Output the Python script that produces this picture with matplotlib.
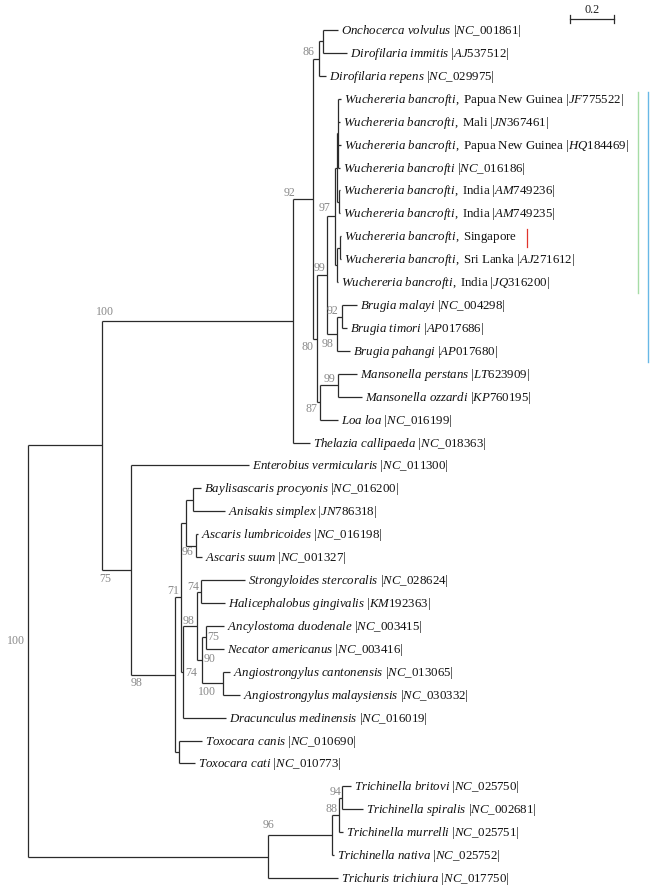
import re
import matplotlib
matplotlib.use('Agg')
import matplotlib.pyplot as plt
from matplotlib.collections import LineCollection

plt.rcParams['font.family'] = 'Liberation Serif'
plt.rcParams['mathtext.fontset'] = 'custom'
plt.rcParams['mathtext.rm'] = 'Liberation Serif'
plt.rcParams['mathtext.it'] = 'Liberation Serif:italic'

# leaf labels, in tree order (leaf i of the newick string)
species = ['Onchocerca volvulus', 'Dirofilaria immitis', 'Dirofilaria repens',
           'Wuchereria bancrofti', 'Wuchereria bancrofti', 'Wuchereria bancrofti',
           'Wuchereria bancrofti', 'Wuchereria bancrofti', 'Wuchereria bancrofti',
           'Wuchereria bancrofti', 'Wuchereria bancrofti', 'Wuchereria bancrofti',
           'Brugia malayi', 'Brugia timori', 'Brugia pahangi',
           'Mansonella perstans', 'Mansonella ozzardi', 'Loa loa', 'Thelazia callipaeda',
           'Enterobius vermicularis', 'Baylisascaris procyonis', 'Anisakis simplex',
           'Ascaris lumbricoides', 'Ascaris suum', 'Strongyloides stercoralis',
           'Halicephalobus gingivalis', 'Ancylostoma duodenale', 'Necator americanus',
           'Angiostrongylus cantonensis', 'Angiostrongylus malaysiensis',
           'Dracunculus medinensis', 'Toxocara canis', 'Toxocara cati',
           'Trichinella britovi', 'Trichinella spiralis', 'Trichinella murrelli',
           'Trichinella nativa', 'Trichuris trichiura']
place = ['', '', '', 'Papua New Guinea', 'Mali', 'Papua New Guinea', '', 'India', 'India',
         'Singapore', 'Sri Lanka', 'India'] + [''] * 26
accession = ['NC_001861', 'AJ537512', 'NC_029975', 'JF775522', 'JN367461', 'HQ184469',
             'NC_016186', 'AM749236', 'AM749235', '', 'AJ271612', 'JQ316200',
             'NC_004298', 'AP017686', 'AP017680', 'LT623909', 'KP760195', 'NC_016199',
             'NC_018363', 'NC_011300', 'NC_016200', 'JN786318', 'NC_016198', 'NC_001327',
             'NC_028624', 'KM192363', 'NC_003415', 'NC_003416', 'NC_013065', 'NC_030332',
             'NC_016019', 'NC_010690', 'NC_010773', 'NC_025750', 'NC_002681', 'NC_025751',
             'NC_025752', 'NC_017750']

# ML tree, branch lengths in substitutions/site, bootstrap as internal labels
tree = ("((((((0:0.068,1:0.109):0.018,2:0.032)86:0.027,"
        "(((((3:0.014,4:0.009,5:0.014,6:0.011):0.0045,(7:0.007,8:0.0045):0.009):0.009,"
        "((9:0.007,10:0.007):0.014,11:0.0045):0.009)97:0.036,"
        "((12:0.068,13:0.023)92:0.023,14:0.059)98:0.045)99:0.045,"
        "((15:0.086,16:0.109)99:0.082,17:0.082)87:0.014)80:0.018)92:0.091,"
        "18:0.077)100:0.868,"
        "(19:0.536,((((20:0.036,21:0.145):0.032,(22:0.009,23:0.027)96:0.045):0.023,"
        "(((24:0.2,25:0.109)74:0.018,((26:0.082,27:0.082)75:0.018,"
        "(28:0.032,29:0.077)100:0.095)90:0.023)98:0.064,30:0.195)74:0.009)71:0.027,"
        "(31:0.105,32:0.073):0.018)98:0.2)75:0.132):0.336,"
        "((((33:0.041,34:0.095)94:0.014,35:0.018)88:0.032,36:0.009)96:0.291,"
        "37:0.318):1.091)100;")

# where each bootstrap sits, px from the start of its branch (order as in the string)
label_off = [(-4, -7), (-2, -8), (-4, -5), (1, 10), (3, -7), (10, -6), (-5, 7), (-5, 8),
             (-3, -6), (3, -8.5), (2, 6), (-4, -5), (11, 0), (5, 8.5), (13, -1), (6, -5),
             (10, 1), (-2, -6), (6, 8), (3, 9), (-4, -6), (-1, -6), (0, -10.5), (-12, -10)]


def parse(s):
    pos = 0

    def node():
        nonlocal pos
        n = {'ch': [], 'bl': 0.0}
        if s[pos] == '(':
            pos += 1
            while True:
                n['ch'].append(node())
                pos += 1
                if s[pos - 1] == ')':
                    break
        lab = re.match(r'[^:,();]*', s[pos:]).group(0)
        n['lab'] = lab
        pos += len(lab)
        if s[pos] == ':':
            m = re.match(r':([0-9.]+)', s[pos:])
            n['bl'] = float(m.group(1))
            pos += len(m.group(0))
        return n
    return node()


root = parse(tree)
segs = []
labelled = []


def layout(n, px):
    n['x'] = px + n['bl']
    n['px'] = px
    if not n['ch']:
        n['y'] = int(n['lab'])
    else:
        for c in n['ch']:
            layout(c, n['x'])
        n['y'] = (n['ch'][0]['y'] + n['ch'][-1]['y']) / 2
        segs.append([(n['x'], n['ch'][0]['y']), (n['x'], n['ch'][-1]['y'])])
        if n['lab']:
            labelled.append(n)
    segs.append([(px, n['y']), (n['x'], n['y'])])


layout(root, 0.0)
leaves = []


def collect(n):
    if n['ch']:
        for c in n['ch']:
            collect(c)
    else:
        leaves.append(n)


collect(root)

fig = plt.figure(figsize=(6.57, 8.93), dpi=100)
ax = fig.add_axes([0, 0, 1, 1])
ax.set_xlim(-28 / 220, 629 / 220)
ax.set_ylim(863 / 22.92, -30 / 22.92)
ax.axis('off')

ax.add_collection(LineCollection(segs, colors='#2b2b2b', linewidths=0.9))


def esc(t):
    return t.replace(' ', r'\ ').replace('_', r'\_')


for lf in leaves:
    i = int(lf['lab'])
    s = r'\mathit{%s}' % esc(species[i])
    if place[i]:
        s += r'\mathrm{,\ %s}' % esc(place[i])
    if accession[i]:
        s += r'\mathrm{\ |}\mathit{%s}\mathrm{|}' % esc(accession[i])
    ax.annotate('$' + s + '$', (lf['x'], lf['y']), xytext=(3, -4), textcoords='offset pixels',
                ha='left', va='baseline', fontsize=9.3, color='#111111')

for n, (dx, dy) in zip(labelled, label_off):
    ax.annotate(n['lab'], (n['px'], n['y']), xytext=(dx, -dy), textcoords='offset pixels',
                ha='center', va='center', fontsize=8.6, color='#8a8a8a')

# scale bar
sx, sy = 542 / 220, -11 / 22.92
ax.plot([sx, sx + 0.2], [sy, sy], color='#2b2b2b', lw=0.9)
for xx in (sx, sx + 0.2):
    ax.plot([xx, xx], [sy - 0.17, sy + 0.17], color='#2b2b2b', lw=0.9)
ax.annotate('0.2', (sx + 0.1, sy), xytext=(0, 9), textcoords='offset pixels',
            ha='center', va='center', fontsize=8.8, color='#222222')

# clade marks: Singapore, Wuchereria, Wuchereria + Brugia
ax.plot([499 / 220] * 2, [9 - 0.3, 9 + 0.47], color='#e0342c', lw=0.9)
ax.plot([610 / 220] * 2, [3 - 0.3, 11 + 0.47], color='#a6dca6', lw=1.0)
ax.plot([620 / 220] * 2, [3 - 0.3, 14 + 0.47], color='#68b8e6', lw=1.0)

fig.savefig('out.png', dpi=100)
